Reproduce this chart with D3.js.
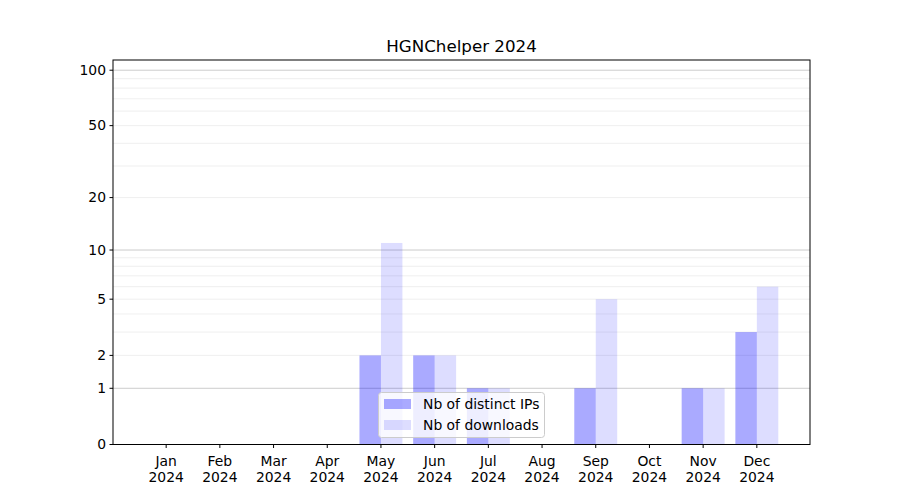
<!DOCTYPE html>
<html><head><meta charset="utf-8">
<script src="https://cdn.jsdelivr.net/npm/d3@7"></script>
<style>body{margin:0;background:#fff}text{font-family:"DejaVu Sans",sans-serif}</style>
</head><body><svg id="c" width="900" height="500"></svg>
<script>
const months = ["Jan","Feb","Mar","Apr","May","Jun","Jul","Aug","Sep","Oct","Nov","Dec"];
const year = "2024";
const distinctIPs = [0,0,0,0,2,2,1,0,1,0,1,3];
const downloads = [0,0,0,0,11,2,1,0,5,0,1,6];
const yTicks = [0,1,2,5,10,20,50,100];
const majorGrid = [1,10,100];
const minorGrid = [2,3,4,5,6,7,8,9,20,30,40,50,60,70,80,90];
const title = "HGNChelper 2024";
const seriesNames = ["Nb of distinct IPs","Nb of downloads"];

const svg = d3.select("#c");
const L=113,R=810,T=60,B=444.5;
const x = d3.scaleLinear().domain([-0.99,11.99]).range([L,R]);
const ylog = d3.scaleLinear().domain([0,2.059]).range([B,T]);
const y = v => ylog(Math.log10(1+v));
const bw = x(0.4)-x(0);
const fs = 13.9;

const g = svg.append("g");
g.selectAll(".mn").data(minorGrid).join("line").attr("x1",L).attr("x2",R)
 .attr("y1",d=>y(d)).attr("y2",d=>y(d)).attr("stroke","#ebebeb").attr("stroke-width",0.8);
g.selectAll(".mj").data(majorGrid).join("line").attr("x1",L).attr("x2",R)
 .attr("y1",d=>y(d)).attr("y2",d=>y(d)).attr("stroke","#cccccc").attr("stroke-width",1);

g.selectAll(".b1").data(distinctIPs).join("rect")
 .attr("x",(d,i)=>x(i)-bw).attr("width",bw).attr("y",d=>y(d)).attr("height",d=>B-y(d))
 .attr("fill","blue").attr("fill-opacity",0.333);
g.selectAll(".b2").data(downloads).join("rect")
 .attr("x",(d,i)=>x(i)).attr("width",bw).attr("y",d=>y(d)).attr("height",d=>B-y(d))
 .attr("fill","blue").attr("fill-opacity",0.135);

svg.append("rect").attr("x",L).attr("y",T).attr("width",R-L).attr("height",B-T)
 .attr("fill","none").attr("stroke","#000").attr("stroke-width",1);

// y axis
const ya = svg.append("g");
yTicks.forEach(v=>{
  ya.append("line").attr("x1",L-3.5).attr("x2",L).attr("y1",y(v)).attr("y2",y(v)).attr("stroke","#000");
  ya.append("text").attr("x",L-7).attr("y",y(v)).attr("dy","0.35em").attr("text-anchor","end")
    .attr("font-size",fs).text(v);
});
// x axis
const xa = svg.append("g");
months.forEach((m,i)=>{
  xa.append("line").attr("x1",x(i)).attr("x2",x(i)).attr("y1",B).attr("y2",B+3.5).attr("stroke","#000");
  const t = xa.append("text").attr("x",x(i)).attr("text-anchor","middle").attr("font-size",fs);
  t.append("tspan").attr("x",x(i)).attr("y",B+21).text(m);
  t.append("tspan").attr("x",x(i)).attr("y",B+37).text(year);
});
svg.append("text").attr("x",(L+R)/2).attr("y",T-8).attr("text-anchor","middle").attr("font-size",16.7).text(title);

// legend
const lg = svg.append("g");
lg.append("rect").attr("x",378.5).attr("y",392.5).attr("width",166).attr("height",45).attr("rx",3)
 .attr("fill","#fff").attr("fill-opacity",0.8).attr("stroke","#cccccc");
[0.333,0.135].forEach((o,i)=>{
  lg.append("rect").attr("x",384).attr("y",399+i*21).attr("width",27).attr("height",10)
    .attr("fill","blue").attr("fill-opacity",o);
  lg.append("text").attr("x",423).attr("y",404.5+i*21).attr("dy","0.35em").attr("font-size",fs).text(seriesNames[i]);
});
</script></body></html>
